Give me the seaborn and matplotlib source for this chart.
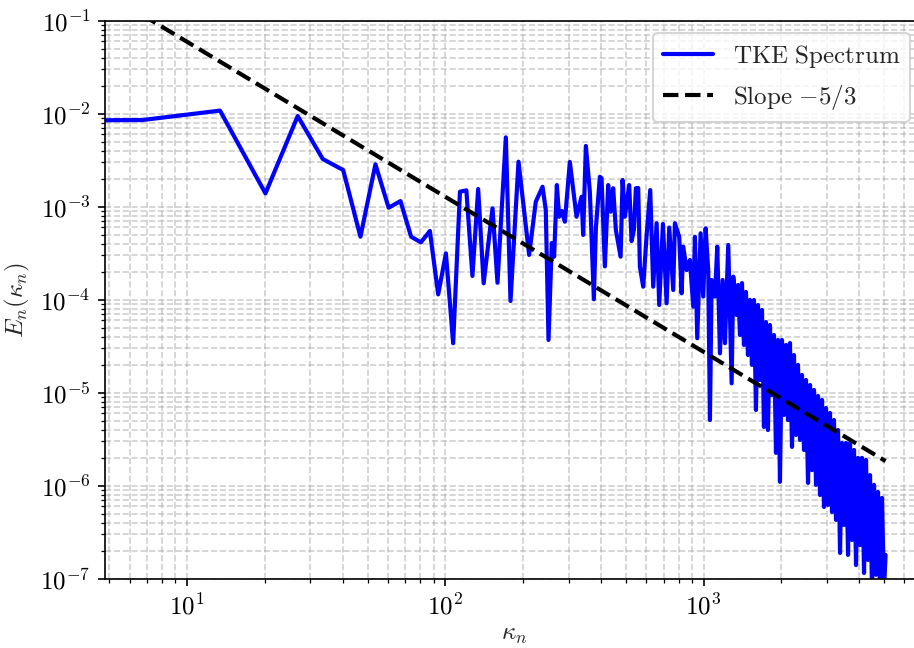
import numpy as np
import pandas as pd
import matplotlib
matplotlib.use("Agg")
import matplotlib.pyplot as plt
import seaborn as sns
from matplotlib.ticker import FuncFormatter, NullFormatter

# ---------------- data ----------------
# low wavenumbers (individual modes)
kappa_low = [4.5, 6.7, 13.4, 20.1, 26.8, 33.5, 40.2, 46.9, 53.6, 60.3, 67.0, 73.7,
             80.4, 87.1, 93.8, 100.5, 107.2, 113.9, 120.6, 127.3, 134.0, 140.7]
E_low = [8.5e-3, 8.55e-3, 1.08e-2, 1.39e-3, 9.44e-3, 3.26e-3, 2.48e-3, 4.75e-4,
         2.86e-3, 9.75e-4, 1.15e-3, 4.75e-4, 4.14e-4, 5.48e-4, 1.14e-4, 3.15e-4,
         3.4e-5, 1.45e-3, 1.50e-3, 1.80e-4, 1.55e-3, 1.50e-4]

# intermediate wavenumbers (peaks / troughs)
kappa_mid = [152.3, 159.2, 171.5, 178.8, 192.0, 211.1, 224.0, 237.9, 244.9, 250.9,
             258.4, 263.8, 270.3, 275.9, 282.6, 290.3, 303.5, 322.2, 337.0, 341.8,
             350.1, 362.8, 376.0, 382.8, 396.7, 402.7, 414.8, 427.2, 436.4, 446.7,
             457.6, 477.2, 485.8, 495.8, 515.2, 526.4, 537.3, 547.0, 558.4, 566.9,
             583.8, 602.0, 621.6, 638.3, 658.0, 673.5, 696.1, 719.5, 736.4, 763.1,
             774.6, 805.0, 822.5, 834.4, 860.1, 885.7, 912.3, 926.2, 945.4, 974.5,
             997.3, 1018.8, 1042.8, 1058.8, 1075.0, 1107.2, 1130.2, 1157.7, 1185.8,
             1210.4, 1246.6, 1284.9, 1303.4, 1343.6, 1359.6]
E_mid = [9.62e-4, 1.52e-4, 5.57e-3, 9.68e-5, 3.05e-3, 3.03e-4, 1.13e-3, 1.64e-3,
         9.22e-4, 3.69e-5, 4.07e-4, 2.90e-4, 1.71e-3, 7.80e-4, 9.0e-4, 6.9e-4,
         3.03e-3, 7.80e-4, 1.28e-3, 4.97e-4, 4.50e-3, 1.45e-3, 1.01e-4, 5.86e-4,
         2.10e-3, 2.02e-3, 2.28e-4, 1.71e-3, 8.84e-4, 1.58e-3, 5.61e-4, 2.90e-4,
         1.94e-3, 7.80e-4, 1.71e-3, 4.27e-4, 5.61e-4, 1.58e-3, 1.59e-3, 2.26e-4,
         1.38e-4, 4.97e-4, 1.51e-3, 1.38e-4, 6.64e-4, 8.77e-5, 6.52e-4, 9.14e-5,
         5.97e-4, 1.27e-4, 6.64e-4, 4.75e-4, 1.17e-4, 3.72e-4, 2.08e-4, 2.67e-4,
         8.41e-5, 4.75e-4, 3.85e-5, 5.18e-4, 1.08e-4, 5.86e-4, 2.08e-4, 5.08e-6,
         1.63e-4, 1.08e-4, 3.72e-4, 2.65e-5, 1.63e-4, 3.40e-5, 3.88e-4, 1.26e-5,
         1.77e-4, 6.84e-5, 1.44e-4]

# high wavenumbers (dense band, alternating upper / lower excursions)
kappa_high = [1384, 1409, 1434, 1460, 1486, 1513, 1540, 1568, 1596, 1625, 1654,
              1684, 1714, 1745, 1776, 1808, 1841, 1874, 1908, 1942, 1977, 2013,
              2049, 2086, 2124, 2162, 2201, 2240, 2281, 2322, 2364, 2406, 2450,
              2494, 2539, 2585, 2631, 2678, 2727, 2776, 2826, 2877, 2928, 2981,
              3035, 3089, 3145, 3201, 3259, 3318, 3378, 3438, 3500, 3563, 3628,
              3693, 3759, 3827, 3896, 3966, 4037, 4110, 4184, 4259, 4336, 4414,
              4493, 4574, 4656, 4740, 4826, 4912, 5001, 5070]
E_high = [4.17e-5, 1.51e-4, 3.26e-5, 1.21e-4, 2.54e-5, 9.93e-5, 1.99e-5, 9.93e-5,
          6.52e-6, 8.77e-5, 1.37e-5, 7.75e-5, 4.28e-6, 5.75e-5, 3.97e-6, 5.35e-5,
          9.45e-6, 4.17e-5, 2.25e-6, 3.69e-5, 1.10e-6, 3.69e-5, 5.76e-6, 3.26e-5,
          5.08e-6, 3.42e-5, 2.61e-6, 2.54e-5, 3.51e-6, 1.99e-5, 3.10e-6, 1.55e-5,
          2.42e-6, 1.37e-5, 1.07e-6, 1.21e-5, 1.47e-6, 1.07e-5, 1.02e-6, 9.22e-6,
          7.94e-7, 8.35e-6, 5.90e-7, 6.84e-6, 6.20e-7, 6.05e-6, 5.21e-7, 5.08e-6,
          4.28e-7, 3.97e-6, 1.89e-7, 2.88e-6, 3.78e-7, 2.88e-6, 1.80e-7, 2.88e-6,
          2.61e-7, 2.42e-6, 1.40e-7, 1.99e-6, 2.30e-7, 1.99e-6, 1.15e-7, 1.89e-6,
          1.59e-7, 1.30e-6, 7.55e-8, 1.02e-6, 1.10e-7, 8.55e-7, 7.55e-8, 7.38e-7,
          7.55e-8, 1.80e-7]

slope_C = 2.75          # prefactor of the -5/3 reference line
slope_exp = -5.0 / 3.0

kappa = np.array(kappa_low + kappa_mid + kappa_high)
E = np.array(E_low + E_mid + E_high)
df = pd.DataFrame({"kappa": kappa, "E": E})

k_ref = np.array([kappa_low[1], kappa_high[-1]])
df_ref = pd.DataFrame({"kappa": k_ref, "E": slope_C * k_ref ** slope_exp})

# ---------------- style ----------------
sns.set_style("ticks")
plt.rcParams.update({
    "font.family": ["DejaVu Serif"],
    "mathtext.fontset": "cm",
    "axes.edgecolor": "black",
    "axes.linewidth": 0.8,
    "xtick.color": "black",
    "ytick.color": "black",
    "xtick.direction": "out",
    "ytick.direction": "out",
    "xtick.major.size": 3.5,
    "ytick.major.size": 3.5,
    "xtick.minor.size": 2.0,
    "ytick.minor.size": 2.0,
    "xtick.major.width": 0.8,
    "ytick.major.width": 0.8,
    "xtick.minor.width": 0.6,
    "ytick.minor.width": 0.6,
})

fig = plt.figure(figsize=(914 / 150, 648 / 150), dpi=150)
# the reference is cropped just left of the right spine
ax = fig.add_axes([0.115, 0.107, 0.8945, 0.861])

sns.lineplot(data=df, x="kappa", y="E", ax=ax, color="#0000ff", lw=2.0,
             estimator=None, sort=False, label=r"$\mathrm{TKE\ Spectrum}$")
sns.lineplot(data=df_ref, x="kappa", y="E", ax=ax, color="black", lw=2.0,
             linestyle="--", estimator=None, sort=False,
             label=r"$\mathrm{Slope}\ {-5/3}$")

ax.set_xscale("log")
ax.set_yscale("log")
ax.set_xlim(4.81, 7060)
ax.set_ylim(1e-7, 1e-1)

fmt = FuncFormatter(lambda v, p: r"$10^{%d}$" % int(round(np.log10(v))))
ax.xaxis.set_major_formatter(fmt)
ax.yaxis.set_major_formatter(fmt)
ax.xaxis.set_minor_formatter(NullFormatter())
ax.yaxis.set_minor_formatter(NullFormatter())
ax.tick_params(labelsize=12)

ax.set_axisbelow(True)
ax.grid(True, which="both", ls="--", lw=0.8, color="#b0b0b0", alpha=0.6)

ax.set_xlabel(r"$\kappa_n$", fontsize=12, labelpad=2)
ax.set_ylabel(r"$E_n(\kappa_n)$", fontsize=12)

for s in ax.spines.values():
    s.set_visible(True)
    s.set_color("black")

ax.legend(loc="upper right", fontsize=12, frameon=True, fancybox=True,
          framealpha=0.8, edgecolor="0.8")

fig.savefig("out.png", dpi=150)
